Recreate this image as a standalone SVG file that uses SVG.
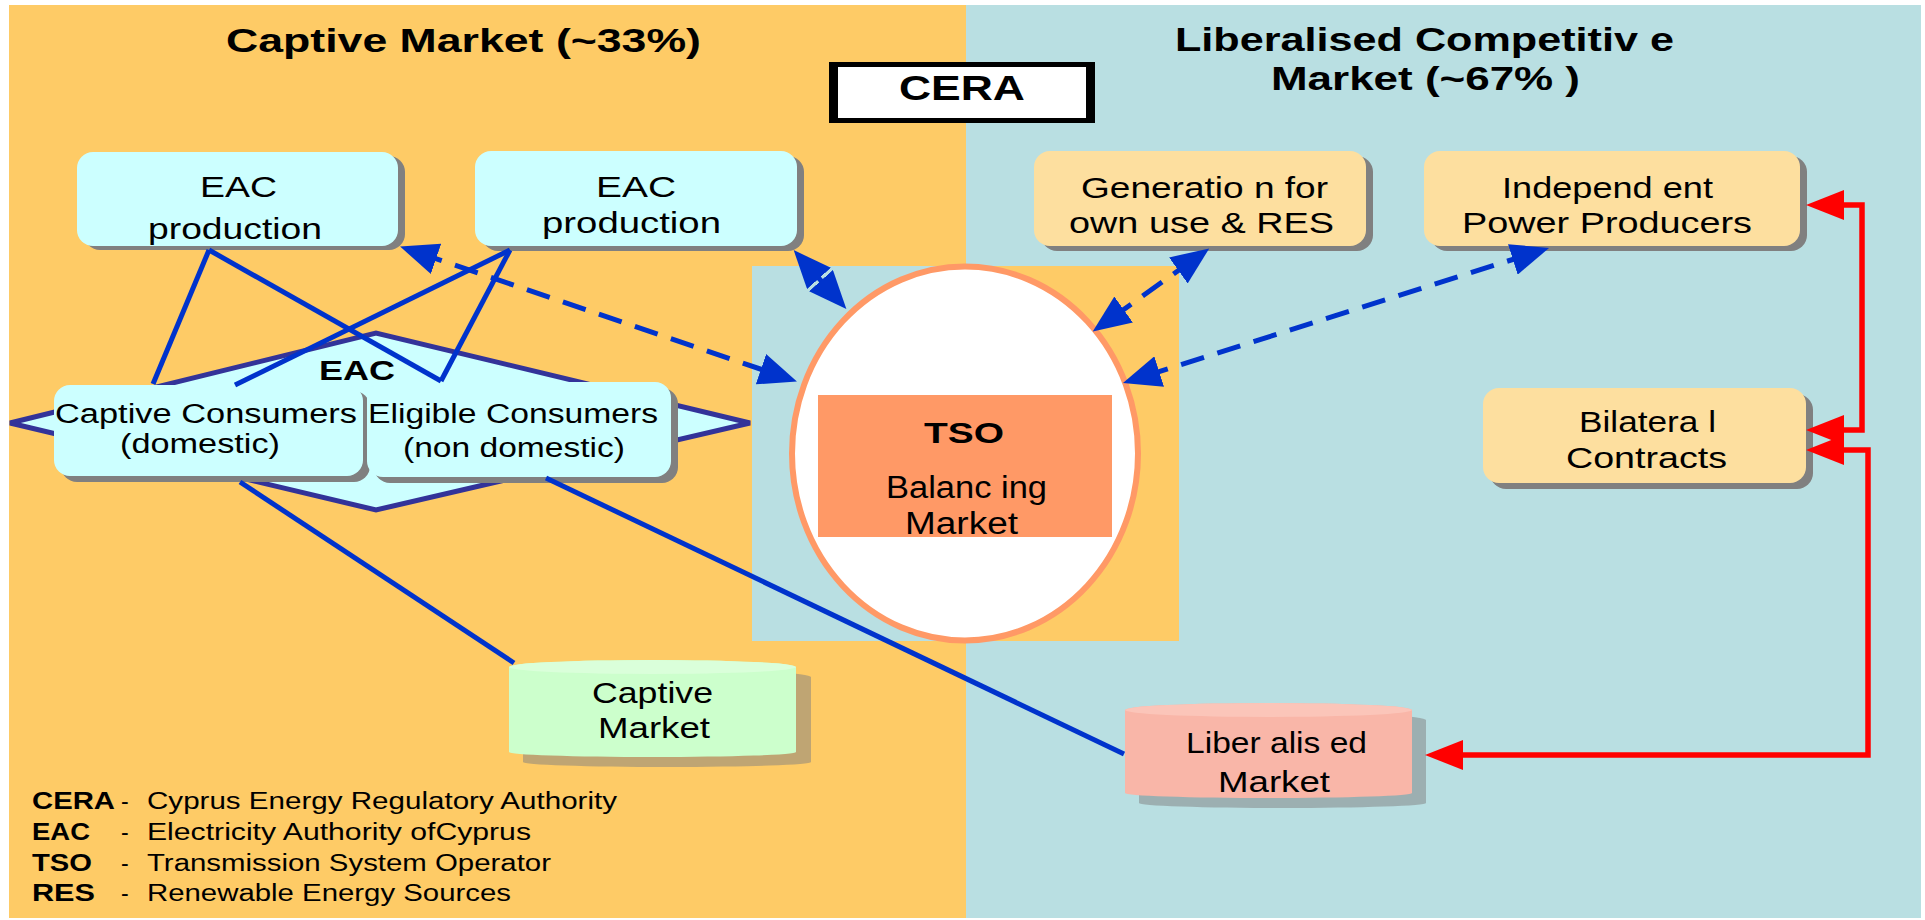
<svg xmlns="http://www.w3.org/2000/svg" width="1925" height="920" viewBox="0 0 1925 920">
<style>
text{font-family:"Liberation Sans",Arial,sans-serif;fill:#000}
.b{font-weight:bold}
.cy{fill:#CCFFFF}
.wh{fill:#FDDF9F}
.sh{fill:#808080}
.blue{stroke:#0033CC;stroke-width:5;fill:none}
.dash{stroke:#0033CC;stroke-width:5;fill:none;stroke-dasharray:24 14}
.red{stroke:#FF0000;stroke-width:5.5;fill:none}
</style>
<defs>
<marker id="ab" viewBox="0 0 38 32" markerUnits="userSpaceOnUse" markerWidth="38" markerHeight="32" refX="18" refY="16" orient="auto-start-reverse"><path d="M0,0 L38,16 L0,32 z" fill="#0033CC"/></marker>
<marker id="ar" viewBox="0 0 38 30" markerUnits="userSpaceOnUse" markerWidth="38" markerHeight="30" refX="18" refY="15" orient="auto-start-reverse"><path d="M0,0 L38,15 L0,30 z" fill="#FF0000"/></marker>
</defs>
<rect width="1925" height="920" fill="#FFFFFF"/>
<rect x="9" y="5" width="957" height="913" fill="#FECB66"/>
<rect x="966" y="5" width="955" height="913" fill="#B9DFE2"/>
<text class="b" x="226" y="52" font-size="34" textLength="475" lengthAdjust="spacingAndGlyphs">Captive Market (~33%)</text>
<text class="b" x="1175" y="51" font-size="34" textLength="499" lengthAdjust="spacingAndGlyphs">Liberalised Competitiv e</text>
<text class="b" x="1271" y="90" font-size="34" textLength="309" lengthAdjust="spacingAndGlyphs">Market (~67% )</text>
<g id="cera">
<rect x="829" y="62" width="266" height="61" fill="#000"/>
<rect x="838" y="67" width="248" height="51" fill="#FFF"/>
<text class="b" x="899" y="100" font-size="35" textLength="126" lengthAdjust="spacingAndGlyphs">CERA</text>
</g>
<g id="tso">
<rect x="752" y="266" width="213" height="375" fill="#B9DFE2"/>
<rect x="965" y="266" width="214" height="375" fill="#FECB66"/>
<ellipse cx="965" cy="453.5" rx="173" ry="187" fill="#FFF" stroke="#FF9966" stroke-width="6"/>
<rect x="818" y="395" width="294" height="142" fill="#FF9966"/>
<text class="b" x="924" y="443" font-size="30" textLength="80" lengthAdjust="spacingAndGlyphs">TSO</text>
<text x="886" y="498" font-size="31" textLength="161" lengthAdjust="spacingAndGlyphs">Balanc ing</text>
<text x="905" y="534" font-size="31" textLength="113" lengthAdjust="spacingAndGlyphs">Market</text>
</g>
<g id="eac-diamond">
<polygon points="10,423 376,333 750,423 376,510" fill="#CCFFFF" stroke="#333399" stroke-width="5"/>
<text class="b" x="319" y="380" font-size="28" textLength="76" lengthAdjust="spacingAndGlyphs">EAC</text>
</g>
<g id="eac-production-1">
<rect x="84" y="156" width="321" height="94" rx="16" class="sh"/>
<rect x="77" y="152" width="321" height="94" rx="16" class="cy"/>
<text x="200" y="197" font-size="29" textLength="77" lengthAdjust="spacingAndGlyphs">EAC</text>
<text x="148" y="239" font-size="29" textLength="174" lengthAdjust="spacingAndGlyphs">production</text>
</g>
<g id="eac-production-2">
<rect x="482" y="156" width="322" height="95" rx="16" class="sh"/>
<rect x="475" y="151" width="322" height="95" rx="16" class="cy"/>
<text x="596" y="197" font-size="29" textLength="80" lengthAdjust="spacingAndGlyphs">EAC</text>
<text x="542" y="233" font-size="29" textLength="179" lengthAdjust="spacingAndGlyphs">production</text>
</g>
<g id="generation">
<rect x="1041" y="156" width="332" height="95" rx="16" class="sh"/>
<rect x="1034" y="151" width="332" height="95" rx="16" class="wh"/>
<text x="1081" y="198" font-size="30" textLength="247" lengthAdjust="spacingAndGlyphs">Generatio n for</text>
<text x="1069" y="233" font-size="30" textLength="265" lengthAdjust="spacingAndGlyphs">own use &amp; RES</text>
</g>
<g id="ipp">
<rect x="1431" y="156" width="376" height="95" rx="16" class="sh"/>
<rect x="1424" y="151" width="376" height="95" rx="16" class="wh"/>
<text x="1502" y="198" font-size="30" textLength="211" lengthAdjust="spacingAndGlyphs">Independ ent</text>
<text x="1462" y="233" font-size="30" textLength="290" lengthAdjust="spacingAndGlyphs">Power Producers</text>
</g>
<g id="bilateral">
<rect x="1490" y="394" width="323" height="95" rx="16" class="sh"/>
<rect x="1483" y="388" width="323" height="95" rx="16" class="wh"/>
<text x="1579" y="432" font-size="30" textLength="137" lengthAdjust="spacingAndGlyphs">Bilatera l</text>
<text x="1566" y="468" font-size="30" textLength="161" lengthAdjust="spacingAndGlyphs">Contracts</text>
</g>
<g id="captive-consumers">
<rect x="61" y="391" width="309" height="91" rx="16" class="sh"/>
<rect x="54" y="385" width="309" height="91" rx="16" class="cy"/>
<text x="55" y="423" font-size="27" textLength="302" lengthAdjust="spacingAndGlyphs">Captive Consumers</text>
<text x="120" y="453" font-size="27" textLength="160" lengthAdjust="spacingAndGlyphs">(domestic)</text>
</g>
<g id="eligible-consumers">
<rect x="374" y="388" width="304" height="95" rx="16" class="sh"/>
<rect x="367" y="382" width="304" height="95" rx="16" class="cy"/>
<text x="368" y="423" font-size="27" textLength="290" lengthAdjust="spacingAndGlyphs">Eligible Consumers</text>
<text x="403" y="457" font-size="27" textLength="222" lengthAdjust="spacingAndGlyphs">(non domestic)</text>
</g>
<g id="captive-market">
<path d="M523,677 A144,7 0 0 1 811,677 L811,762 A144,5 0 0 1 523,762 Z" fill="#808080" opacity="0.5"/>
<path d="M509,667 A143.5,7 0 0 1 796,667 L796,752 A143.5,5 0 0 1 509,752 Z" fill="#CCFFCC"/>
<ellipse cx="652.5" cy="667" rx="143.5" ry="7" fill="#DAFFDA"/>
<text x="592" y="703" font-size="29" textLength="121" lengthAdjust="spacingAndGlyphs">Captive</text>
<text x="598" y="738" font-size="29" textLength="112" lengthAdjust="spacingAndGlyphs">Market</text>
</g>
<g id="liberalised-market">
<path d="M1139,720 A143.5,7 0 0 1 1426,720 L1426,803 A143.5,5 0 0 1 1139,803 Z" fill="#808080" opacity="0.5"/>
<path d="M1125,710 A143.5,7 0 0 1 1412,710 L1412,793 A143.5,5 0 0 1 1125,793 Z" fill="#F9B6A8"/>
<ellipse cx="1268.5" cy="710" rx="143.5" ry="7" fill="#FBC5B9"/>
<text x="1186" y="753" font-size="30" textLength="181" lengthAdjust="spacingAndGlyphs">Liber alis ed</text>
<text x="1218" y="792" font-size="30" textLength="112" lengthAdjust="spacingAndGlyphs">Market</text>
</g>
<g id="connectors">
<line class="blue" x1="209" y1="250" x2="153" y2="384"/>
<line class="blue" x1="209" y1="250" x2="441" y2="381"/>
<line class="blue" x1="510" y1="250" x2="235" y2="385"/>
<line class="blue" x1="510" y1="250" x2="441" y2="381"/>
<line class="blue" x1="240" y1="482" x2="514" y2="663"/>
<line class="blue" x1="546" y1="478" x2="1124" y2="754"/>
<line class="dash" x1="419" y1="253" x2="778" y2="375" marker-start="url(#ab)" marker-end="url(#ab)"/>
<line class="dash" x1="807" y1="265" x2="833" y2="294" marker-start="url(#ab)" marker-end="url(#ab)"/>
<line class="dash" x1="1193" y1="260" x2="1109" y2="320" marker-start="url(#ab)" marker-end="url(#ab)"/>
<line class="dash" x1="1530" y1="254" x2="1142" y2="377" marker-start="url(#ab)" marker-end="url(#ab)"/>
<path class="red" d="M1826,205 L1862,205 L1862,430 L1826,430" marker-start="url(#ar)" marker-end="url(#ar)"/>
<path class="red" d="M1826,450 L1868,450 L1868,755 L1445,755" marker-start="url(#ar)" marker-end="url(#ar)"/>
</g>
<g id="legend" font-size="23">
<text class="b" x="32" y="809" textLength="83" lengthAdjust="spacingAndGlyphs">CERA</text>
<text x="121" y="809">-</text>
<text x="147" y="809" textLength="470" lengthAdjust="spacingAndGlyphs">Cyprus Energy Regulatory Authority</text>
<text class="b" x="32" y="840" textLength="58" lengthAdjust="spacingAndGlyphs">EAC</text>
<text x="121" y="840">-</text>
<text x="147" y="840" textLength="384" lengthAdjust="spacingAndGlyphs">Electricity Authority ofCyprus</text>
<text class="b" x="32" y="871" textLength="60" lengthAdjust="spacingAndGlyphs">TSO</text>
<text x="121" y="871">-</text>
<text x="147" y="871" textLength="404" lengthAdjust="spacingAndGlyphs">Transmission System Operator</text>
<text class="b" x="32" y="901" textLength="63" lengthAdjust="spacingAndGlyphs">RES</text>
<text x="121" y="901">-</text>
<text x="147" y="901" textLength="364" lengthAdjust="spacingAndGlyphs">Renewable Energy Sources</text>
</g>
</svg>
